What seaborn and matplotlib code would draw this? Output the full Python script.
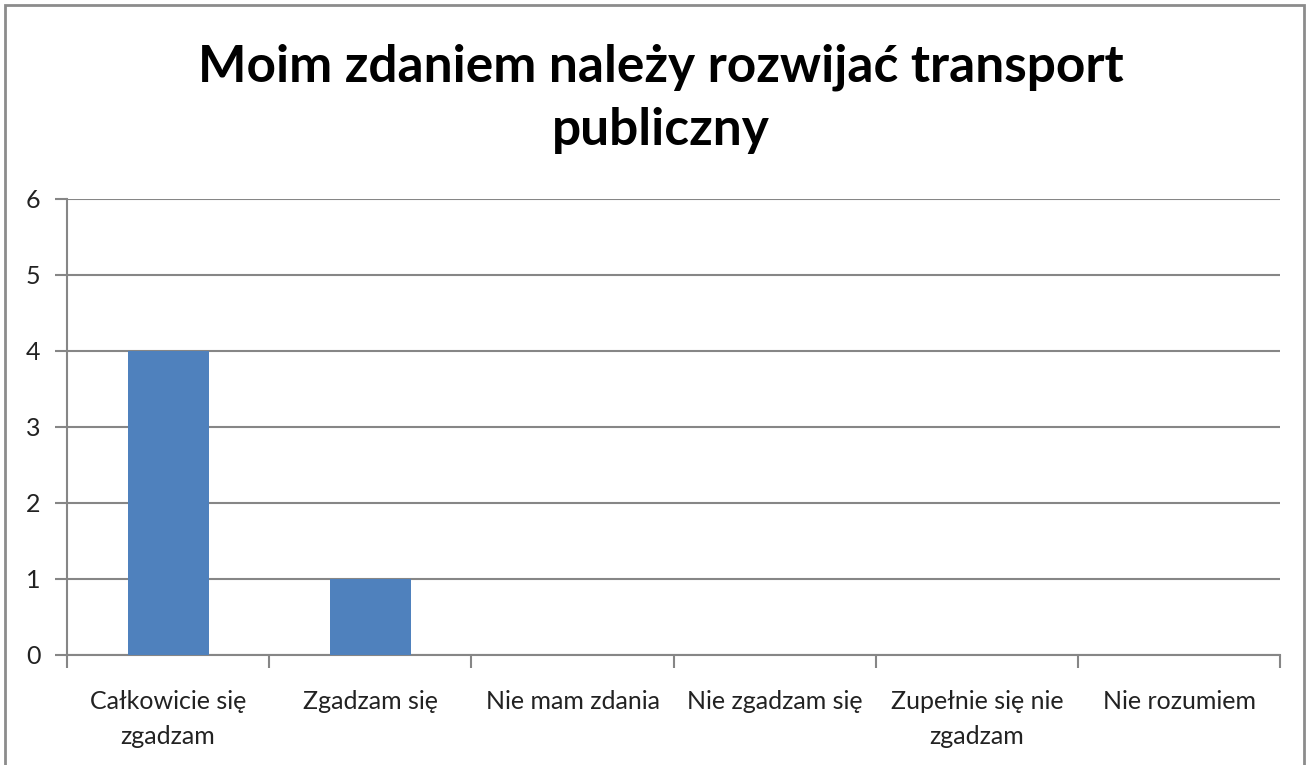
"""
Survey answers: public transport should be developed (bar chart of counts).
"""
import pandas as pd
import seaborn as sns
import matplotlib.pyplot as plt
from matplotlib.patches import Rectangle
import numpy as np

answers = ['Całkowicie się\nzgadzam', 'Zgadzam się', 'Nie mam zdania',
           'Nie zgadzam się', 'Zupełnie się nie\nzgadzam', 'Nie rozumiem']
counts = [4, 1, 0, 0, 0, 0]
yticks = [0, 1, 2, 3, 4, 5, 6]

df = pd.DataFrame({'answer': answers, 'count': counts})

sns.set_style('white')
plt.rcParams['font.family'] = ['Lato', 'DejaVu Sans']
grid_col = '#868686'

fig = plt.figure(figsize=(13.09, 7.65), dpi=100)
ax = fig.add_axes([0.0512, 0.1438, 0.9268, 0.5962])

sns.barplot(x='answer', y='count', data=df, color='#4F81BD', width=0.4,
            saturation=1, ax=ax, zorder=3, linewidth=0)

ax.set_ylim(0, 6)
ax.set_xlim(-0.5, len(answers) - 0.5)
ax.set_yticks(yticks)
ax.set_yticklabels([str(t) for t in yticks], fontsize=18)
ax.yaxis.grid(True, color=grid_col, linewidth=1.5, zorder=0)
ax.set_axisbelow(True)

# category labels centred, tick marks on category boundaries
ax.set_xticks(np.arange(len(answers)))
ax.set_xticklabels(answers, fontsize=18, color='#222222', linespacing=1.65)
ax.tick_params(axis='x', which='major', length=0, pad=25)
ax.set_xticks(np.arange(len(answers) + 1) - 0.5, minor=True)
ax.tick_params(axis='x', which='minor', length=9, width=1.5, color=grid_col,
               direction='out', bottom=True)
ax.tick_params(axis='y', length=9, width=1.5, color=grid_col, left=True,
               pad=10, labelcolor='#222222')

for side in ['top', 'right']:
    ax.spines[side].set_visible(False)
for side in ['left', 'bottom']:
    ax.spines[side].set_color(grid_col)
    ax.spines[side].set_linewidth(1.5)

ax.set_xlabel('')
ax.set_ylabel('')

fig.text(0.505, 0.871, 'Moim zdaniem należy rozwijać transport\npubliczny',
         ha='center', va='center', fontsize=37, fontweight='bold',
         color='black', linespacing=1.4)

# outer chart border
fig.patches.append(Rectangle((0.004, -0.01), 0.992, 1.003, transform=fig.transFigure,
                             fill=False, edgecolor='#8c8c8c', linewidth=2))

plt.savefig('out.png', dpi=100)
